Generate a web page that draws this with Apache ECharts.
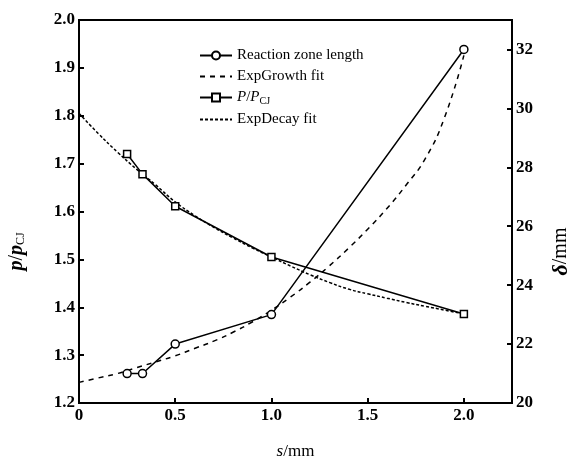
<!DOCTYPE html>
<html>
<head>
<meta charset="utf-8">
<title>Reaction zone length and p/pCJ</title>
<style>
html, body { margin: 0; padding: 0; background: #fff; }
#chart { width: 578px; height: 466px; }
</style>
</head>
<body>
<div id="chart"></div>
<script src="https://cdn.jsdelivr.net/npm/echarts@6/dist/echarts.min.js"></script>
<script>
// measured points
var sPoints = [0.25, 0.33, 0.5, 1.0, 2.0];
var zoneLength = [21.0, 21.0, 22.0, 23.0, 32.0];     // delta / mm, right axis
var pRatio = [1.72, 1.678, 1.611, 1.505, 1.386];     // p/pCJ, left axis

// fit curves
var sFit = [0, 0.1, 0.2, 0.3, 0.4, 0.5, 0.6, 0.7, 0.8, 0.9, 1.0,
            1.1, 1.2, 1.3, 1.4, 1.5, 1.6, 1.7, 1.8, 1.9, 2.0];
var growthFit = [20.7, 20.85, 21.0, 21.2, 21.4, 21.6, 21.85, 22.1, 22.4, 22.75, 23.15,
                 23.6, 24.1, 24.65, 25.25, 25.9, 26.6, 27.4, 28.3, 29.7, 31.8];
var decayFit = [1.805, 1.763, 1.724, 1.688, 1.655, 1.620, 1.592, 1.567, 1.545, 1.524, 1.505,
                1.486, 1.468, 1.452, 1.438, 1.428, 1.419, 1.410, 1.402, 1.394, 1.386];

function pairs(xs, ys) {
	return xs.map(function (x, i) { return [x, ys[i]]; });
}

var font = 'Liberation Serif';
var chart = echarts.init(document.getElementById('chart'));

var axisCommon = {
	axisLine: { show: true, lineStyle: { color: '#000', width: 2 } },
	axisTick: { show: true, inside: true, length: 5, lineStyle: { color: '#000', width: 2 } },
	splitLine: { show: false },
	axisLabel: { color: '#000', fontFamily: font, fontSize: 17, fontWeight: 'bold', margin: 4, showMaxLabel: false }
};

var option = {
	animation: false,
	backgroundColor: '#fff',
	grid: {
		left: 79, right: 66, top: 20, bottom: 63,
		outerBoundsMode: 'none',
		show: true, borderColor: '#000', borderWidth: 2
	},
	legend: {
		orient: 'vertical',
		left: 194,
		top: 43,
		itemWidth: 32,
		itemHeight: 10,
		itemGap: 6,
		textStyle: {
			color: '#000', fontFamily: font, fontSize: 15,
			rich: {
				i: { fontStyle: 'italic', fontFamily: font, fontSize: 15, color: '#000' },
				sub: { fontFamily: font, fontSize: 10, color: '#000', padding: [7, 0, 0, 0] }
			}
		},
		formatter: function (name) {
			if (name === 'P/PCJ') return '{i|P}/{i|P}{sub|CJ}';
			return name;
		},
		data: [
			'Reaction zone length',
			{ name: 'ExpGrowth fit', itemStyle: { opacity: 0 } },
			'P/PCJ',
			{ name: 'ExpDecay fit', itemStyle: { opacity: 0 } }
		]
	},
	xAxis: Object.assign({}, axisCommon, {
		type: 'value',
		min: 0,
		max: 2.25,
		interval: 0.5,
		name: '{i|s}/mm',
		nameLocation: 'middle',
		nameGap: 40,
		nameTextStyle: {
			color: '#000', fontFamily: font, fontSize: 17,
			rich: { i: { fontStyle: 'italic', fontFamily: font, fontSize: 17, color: '#000' } }
		},
		axisLabel: Object.assign({}, axisCommon.axisLabel, {
			formatter: function (v) { return v === 0 ? '0' : v.toFixed(1); }
		})
	}),
	yAxis: [
		Object.assign({}, axisCommon, {
			type: 'value',
			position: 'left',
			min: 1.2,
			max: 2.0,
			interval: 0.1,
			name: '{i|p}/{i|p}{sub|CJ}',
			nameLocation: 'middle',
			nameRotate: 90,
			nameGap: 52,
			nameTextStyle: {
				color: '#000', fontFamily: font, fontSize: 20, padding: [0, 80, 0, 0],
				rich: {
					i: { fontStyle: 'italic', fontWeight: 'bold', fontFamily: font, fontSize: 20, color: '#000' },
					sub: { fontFamily: font, fontSize: 12, color: '#000', padding: [9, 0, 0, 0] }
				}
			},
			axisLabel: Object.assign({}, axisCommon.axisLabel, {
				showMaxLabel: true,
				formatter: function (v) { return v.toFixed(1); }
			})
		}),
		Object.assign({}, axisCommon, {
			type: 'value',
			position: 'right',
			min: 20,
			max: 33,
			interval: 2,
			name: '{i|δ}/mm',
			nameLocation: 'middle',
			nameRotate: 90,
			nameGap: 38,
			nameTextStyle: {
				color: '#000', fontFamily: font, fontSize: 20, padding: [0, 80, 0, 0],
				rich: { i: { fontStyle: 'italic', fontWeight: 'bold', fontFamily: font, fontSize: 22, color: '#000' } }
			}
		})
	],
	series: [
		{
			name: 'Reaction zone length',
			type: 'line',
			yAxisIndex: 1,
			data: pairs(sPoints, zoneLength),
			symbol: 'circle',
			symbolSize: 8,
			itemStyle: { color: '#fff', borderColor: '#000', borderWidth: 1.5 },
			lineStyle: { color: '#000', width: 1.5 },
			z: 4
		},
		{
			name: 'ExpGrowth fit',
			type: 'line',
			yAxisIndex: 1,
			data: pairs(sFit, growthFit),
			smooth: true,
			showSymbol: false,
			symbol: 'none',
			itemStyle: { color: '#000' },
			lineStyle: { color: '#000', width: 1.5, type: [5, 5] },
			z: 3
		},
		{
			name: 'P/PCJ',
			type: 'line',
			yAxisIndex: 0,
			data: pairs(sPoints, pRatio),
			symbol: 'rect',
			symbolSize: 7,
			itemStyle: { color: '#fff', borderColor: '#000', borderWidth: 1.5 },
			lineStyle: { color: '#000', width: 1.5 },
			z: 4
		},
		{
			name: 'ExpDecay fit',
			type: 'line',
			yAxisIndex: 0,
			data: pairs(sFit, decayFit),
			smooth: true,
			showSymbol: false,
			symbol: 'none',
			itemStyle: { color: '#000' },
			lineStyle: { color: '#000', width: 1.5, type: [3, 2] },
			z: 3
		}
	]
};
chart.setOption(option);
</script>
</body>
</html>
